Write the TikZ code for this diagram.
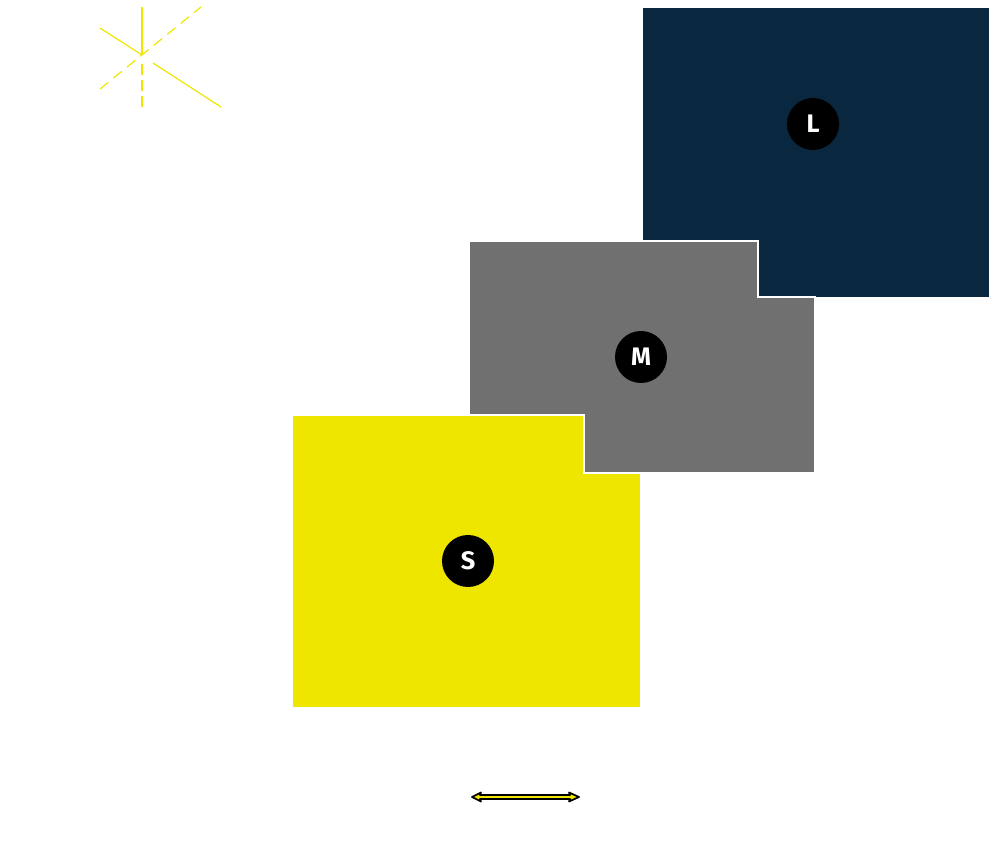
\documentclass[tikz,border=0pt]{standalone}
\usepackage{fontspec}
\setmainfont{Fira Sans}
\definecolor{sizeL}{RGB}{10,39,64}
\definecolor{sizeM}{RGB}{112,112,112}
\definecolor{sizeS}{RGB}{239,230,0}

\begin{document}
\begin{tikzpicture}[x=0.75pt, y=-0.75pt,
  marker/.style={circle, fill=black, minimum size=39pt, inner sep=0pt,
    text=white, font=\fontsize{19}{19}\selectfont\bfseries}]
  \useasboundingbox (0,0) rectangle (1008,862);
  % large block
  \fill[sizeL] (643,8) rectangle (989,297);
  % medium block, outlined where it meets L
  \fill[sizeM, draw=white, line width=1.5pt]
    (469,241) -- (758,241) -- (758,297) -- (815,297) -- (815,473) -- (469,473) -- cycle;
  % small block, outlined where it meets M
  \fill[sizeS, draw=white, line width=1.5pt]
    (292,415) -- (584,415) -- (584,473) -- (641,473) -- (641,708) -- (292,708) -- cycle;
  % size markers
  \node[marker] (L) at (813,124) {L};
  \node[marker] (M) at (641,357) {M};
  \node[marker] (S) at (468,561) {S};
  % axes glyph
  \draw[sizeS, line width=0.9pt] (142,7) -- (142,55);
  \draw[sizeS, line width=0.9pt, dash pattern=on 8pt off 4pt] (142,64) -- (142,107);
  \draw[sizeS, line width=0.9pt] (100,28) -- (142,55);
  \draw[sizeS, line width=0.9pt] (153,63) -- (221,107);
  \draw[sizeS, line width=0.9pt, dash pattern=on 8pt off 5pt] (100,89) -- (201,7);
  % scale arrow
  \filldraw[fill=sizeS, draw=black, line width=1.3pt, line join=round]
    (472,797) -- (481,792.5) -- (480,795) -- (570,795) -- (569,792.5) -- (579,797)
    -- (569,801.5) -- (570,799) -- (480,799) -- (481,801.5) -- cycle;
\end{tikzpicture}
\end{document}
